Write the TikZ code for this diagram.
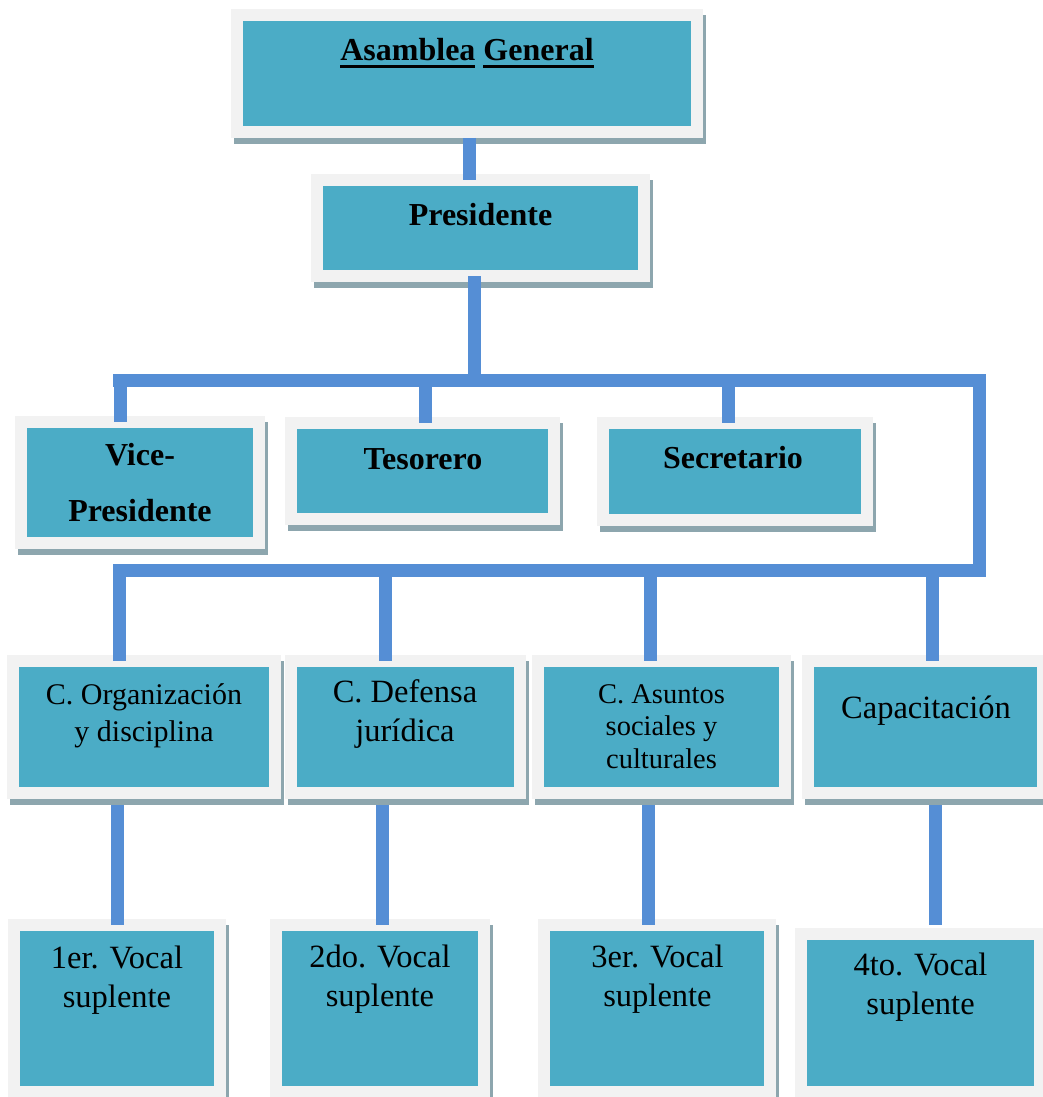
\documentclass[tikz,border=0pt]{standalone}
\usepackage{fontspec}
\setmainfont{Liberation Serif}
\usetikzlibrary{calc}

\definecolor{turquesa}{RGB}{75,172,198}
\definecolor{marco}{RGB}{242,242,242}
\definecolor{sombra}{RGB}{141,166,174}
\definecolor{azul}{RGB}{85,142,213}

\newcommand\subraya[1]{\setbox0\hbox{#1}\rlap{\rule[-7pt]{\wd0}{3pt}}\box0\relax}

\tikzset{
  caja/.style={fill=turquesa, draw=marco, line width=12pt, inner sep=0pt,
    outer sep=0pt,
    preaction={fill=sombra, draw=sombra, line width=12pt,
      transform canvas={shift={(3pt,-6pt)}}}},
  tam/.style 2 args={minimum width=#1pt, minimum height=#2pt},
  negrita/.style={anchor=base, align=center, inner sep=0pt,
    font=\fontsize{32}{56}\selectfont\bfseries},
  normal/.style={anchor=base, align=center, inner sep=0pt,
    font=\fontsize{30}{37}\selectfont},
  grande/.style={anchor=base, align=center, inner sep=0pt,
    font=\fontsize{32.5}{38.5}\selectfont},
  chica/.style={anchor=base, align=center, inner sep=0pt,
    font=\fontsize{28.5}{32.5}\selectfont},
  enlace/.style={draw=azul, line width=13pt}
}

\begin{document}
\begin{tikzpicture}[x=1pt,y=-1pt]
\useasboundingbox (0,0) rectangle (1043,1097);
\fill[white] (0,0) rectangle (1043,1097);

% cajas
\node[caja, tam={460}{117}] (asam) at (467,73.5) {};
\node[caja, tam={327}{96}]  (pres) at (480.5,228) {};
\node[caja, tam={238}{121}] (vice) at (140,482.5) {};
\node[caja, tam={263}{96}]  (teso) at (422.5,471) {};
\node[caja, tam={264}{97}]  (secr) at (735,471.5) {};
\node[caja, tam={262}{132}] (orga) at (144,727) {};
\node[caja, tam={229}{132}] (defe) at (405.5,727) {};
\node[caja, tam={247}{132}] (asun) at (661.5,727) {};
\node[caja, tam={235}{132}] (capa) at (925.5,727) {};
\node[caja, tam={206}{167}] (voc1) at (117,1008.5) {};
\node[caja, tam={208}{167}] (voc2) at (380,1008.5) {};
\node[caja, tam={226}{167}] (voc3) at (657,1008.5) {};
\node[caja, tam={239}{158}] (voc4) at (920.5,1013) {};

% textos (base = ultima linea)
\node[negrita] (t-asam) at (467,61) {\subraya{Asamblea} \subraya{General}};
\node[negrita] (t-pres) at (480.5,225) {Presidente};
\node[negrita] (t-vice) at (140,521) {Vice-\\Presidente};
\node[negrita] (t-teso) at (423,469) {Tesorero};
\node[negrita] (t-secr) at (733,468) {Secretario};
\node[normal]  (t-orga) at (144,741) {C. Organización\\y disciplina};
\node[grande]  (t-defe) at (405,741) {C. Defensa\\jurídica};
\node[chica]   (t-asun) at (661.5,768) {C. Asuntos\\sociales y\\culturales};
\node[grande]  (t-capa) at (926,718) {Capacitación};
\node[grande]  (t-voc1) at (117,1007) {1er. Vocal\\suplente};
\node[grande]  (t-voc2) at (380,1006) {2do. Vocal\\suplente};
\node[grande]  (t-voc3) at (657.5,1006) {3er. Vocal\\suplente};
\node[grande]  (t-voc4) at (920.5,1014) {4to. Vocal\\suplente};

% barras
\coordinate (b1i) at (113,380);
\coordinate (b1d) at (979.5,380);
\coordinate (b2d) at (979.5,570);
\coordinate (b2i) at (113,570);
\draw[enlace] (b1i) -- (b1d) -- (b2d) -- (b2i);

% enlaces
\draw[enlace, shorten <=6pt] (469.5,0 |- asam.south) -- (469.5,0 |- pres.north);
\draw[enlace] (474.5,0 |- pres.south) -- (474.5,0 |- b1i);
\foreach \x/\n in {120/vice, 425/teso, 728.5/secr}
  \draw[enlace] (\x,0 |- b1i) -- (\x,0 |- \n.north);
\foreach \x/\n in {119/orga, 385/defe, 650.5/asun, 932.5/capa}
  \draw[enlace] (\x,0 |- b2i) -- (\x,0 |- \n.north);
\foreach \x/\a/\b in {117.5/orga/voc1, 382.5/defe/voc2, 648.5/asun/voc3}
  \draw[enlace, shorten <=12pt] (\x,0 |- \a.south) -- (\x,0 |- \b.north);
\draw[enlace, shorten <=12pt, shorten >=9pt] (935,0 |- capa.south) -- (935,0 |- voc4.north);
\end{tikzpicture}
\end{document}
